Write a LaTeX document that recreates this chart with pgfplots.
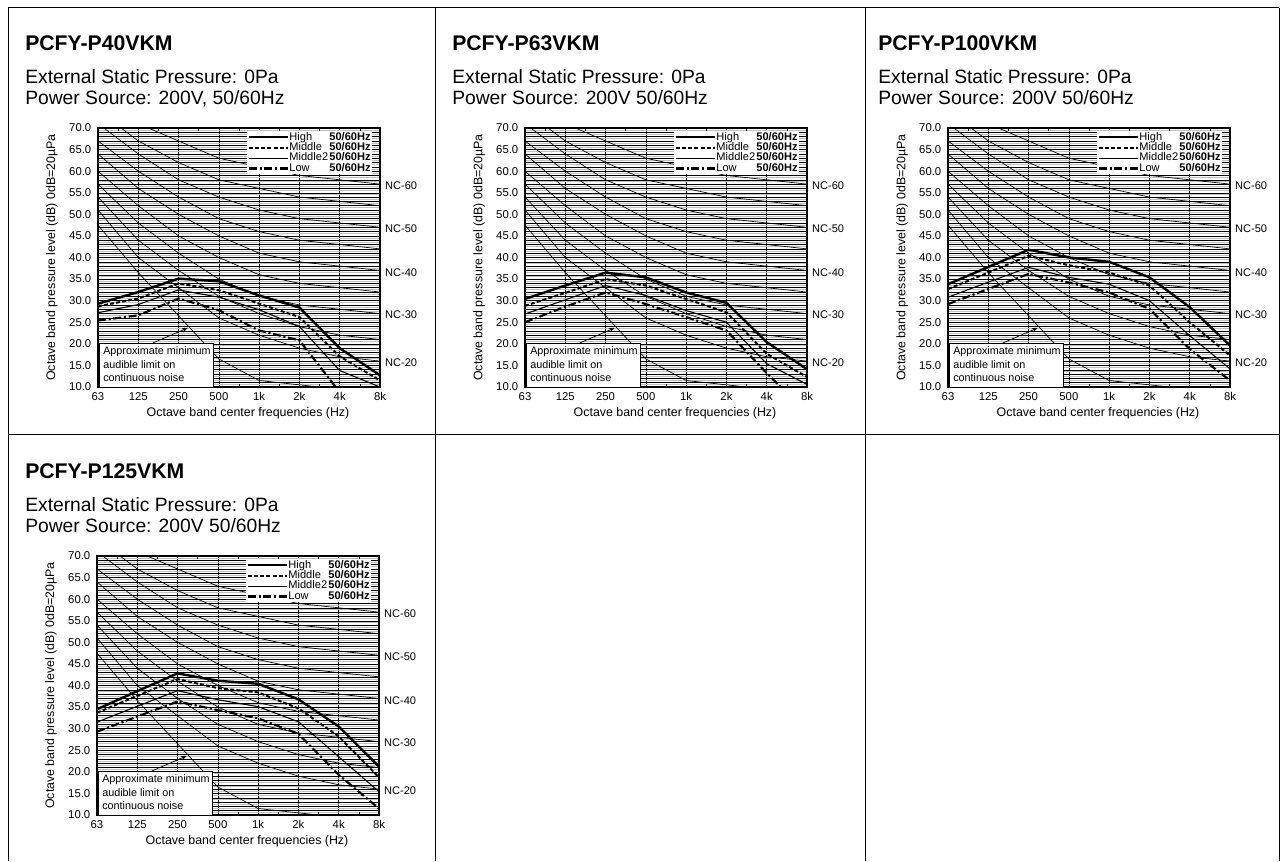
\documentclass[border=0pt]{standalone}
\usepackage{pgfplots}
\pgfplotsset{compat=1.18}
\usepackage{pgfplotstable}
\usepackage{fontspec}
\setmainfont{Liberation Sans}
\usetikzlibrary{arrows.meta}

% NC curves + approximate audible limit, octave bands 63..8k as 0..7
\pgfplotstableread{
i nc20 nc25 nc30 nc35 nc40 nc45 nc50 nc55 nc60 aud
0 51 54 57 60 64 67 71 74 77 47.5
1 40 44 48 52 56 60 64 67 71 36.5
2 33 37 41 45 50 54 58 62 67 26.5
3 26 31 35 40 45 49 54 58 63 16.5
4 22 27 31 36 41 46 51 56 61 11.5
5 19 24 29 34 39 44 49 54 59 10.5
6 17 22 28 33 38 43 48 53 58 9.5
7 16 21 27 32 37 42 47 52 57 8.5
}\nc

\pgfplotstableread{
i high mid mid2 low
0 29.3 28.7 27.2 25.4
1 32.0 30.5 29.1 26.6
2 35.1 34.0 32.5 30.5
3 34.5 32.4 30.8 27.8
4 31.2 29.3 27.9 23.1
5 28.4 26.2 24.0 20.8
6 19.0 17.1 13.8 8.8
7 12.7 11.5 10.0 4.0
}\pforty

\pgfplotstableread{
i high mid mid2 low
0 30.4 28.8 26.9 25.0
1 33.5 31.8 30.2 28.6
2 36.5 35.0 33.5 31.9
3 35.4 33.5 31.2 29.2
4 31.9 30.4 27.7 26.2
5 29.5 27.3 25.0 23.1
6 20.4 17.7 15.4 13.2
7 14.1 12.3 10.6 4.0
}\psixty

\pgfplotstableread{
i high mid mid2 low
0 33.8 32.7 30.8 29.2
1 37.8 36.5 34.3 32.7
2 41.8 40.4 37.7 36.2
3 40.0 38.2 35.4 34.2
4 39.0 36.5 33.8 31.9
5 35.4 33.5 30.0 28.1
6 28.5 25.0 21.9 18.8
7 19.6 17.3 14.2 11.5
}\phundred

\pgfplotstableread{
i high mid mid2 low
0 34.5 33.7 31.5 29.3
1 38.7 37.6 35.2 32.8
2 42.8 41.5 38.8 36.3
3 41.1 39.4 36.7 34.3
4 40.4 38.4 35.1 32.4
5 36.8 34.7 31.6 28.8
6 30.5 28.2 23.5 19.3
7 21.2 18.7 15.4 11.5
}\ptwentyfive

\newcommand{\fs}[1]{\fontsize{#1}{#1}\selectfont}

\pgfplotsset{
  ncax/.style={
    scale only axis, width=211.5pt, height=194.25pt, anchor=south west,
    xmin=0, xmax=7, ymin=10, ymax=70,
    xtick={0,...,7}, xticklabels={63,125,250,500,1k,2k,4k,8k},
    ytick={10,15,...,70},
    yticklabels={10.0,15.0,20.0,25.0,30.0,35.0,40.0,45.0,50.0,55.0,60.0,65.0,70.0},
    minor xtick={0.5,1.5,...,6.5},
    minor ytick={10.5,11.5,...,69.5},
    extra y ticks={11,12,13,14,16,17,18,19,21,22,23,24,26,27,28,29,31,32,33,34,36,37,38,39,41,42,43,44,46,47,48,49,51,52,53,54,56,57,58,59,61,62,63,64,66,67,68,69},
    extra y tick labels={},
    extra y tick style={grid=major, major tick length=0pt},
    xmajorgrids, ymajorgrids, yminorgrids,
    major grid style={black, line width=0.35pt},
    minor grid style={gray!50, line width=0.75pt},
    major tick length=0pt, minor tick length=2.5pt,
    minor x tick style={black, line width=0.4pt},
    minor y tick style={draw=none},
    axis line style={line width=1.1pt},
    tick label style={font=\fs{8.5}},
    yticklabel style={xshift=-1.5pt},
    xticklabel style={yshift=-0.5pt},
    xlabel={Octave band center frequencies (Hz)},
    ylabel={Octave band pressure level (dB) 0dB=20µPa},
    xlabel style={font=\fs{9.3}, at={(axis description cs:0.532,0)}, anchor=base, yshift=-21.75pt},
    ylabel style={font=\fs{9.3}, at={(axis description cs:-0.163,0.5)}, anchor=center},
    clip mode=individual,
    legend style={at={(0.972,0.988)}, anchor=north east, draw=none, fill=white,
      font=\fs{8.3}, inner sep=0.5pt, row sep=0pt,
      nodes={inner sep=0.4pt, text height=5.6pt, text depth=1.4pt}},
    legend cell align=left,
    legend image code/.code={\draw[##1] (0pt,0pt) -- (29pt,0pt);},
  },
  ncline/.style={black, line width=0.5pt, forget plot},
  high/.style={black, line width=1.8pt},
  mid/.style={black, line width=1.5pt, dash pattern=on 3pt off 1.6pt},
  midtwo/.style={black, line width=0.8pt},
  low/.style={black, line width=1.6pt, dash pattern=on 6pt off 2pt on 1.6pt off 2pt},
}

\newcommand{\panel}[2]{%
\begin{axis}[ncax, at={(#1)}]
  \addplot[ncline] table[x=i,y=nc20]{\nc};
  \addplot[ncline] table[x=i,y=nc25]{\nc};
  \addplot[ncline] table[x=i,y=nc30]{\nc};
  \addplot[ncline] table[x=i,y=nc35]{\nc};
  \addplot[ncline] table[x=i,y=nc40]{\nc};
  \addplot[ncline] table[x=i,y=nc45]{\nc};
  \addplot[ncline] table[x=i,y=nc50]{\nc};
  \addplot[ncline] table[x=i,y=nc55]{\nc};
  \addplot[ncline] table[x=i,y=nc60]{\nc};
  \addplot[ncline] table[x=i,y=aud]{\nc};
  \draw[black, line width=0.4pt, fill=white] (axis cs:0.02,10) rectangle (axis cs:2.85,20.2);
  \node[anchor=base west, font=\fs{8.1}, inner sep=0pt] at (axis cs:0.124,17.64) {Approximate minimum};
  \node[anchor=base west, font=\fs{8.1}, inner sep=0pt] at (axis cs:0.124,14.4) {audible limit on};
  \node[anchor=base west, font=\fs{8.1}, inner sep=0pt] at (axis cs:0.124,11.23) {continuous noise};
  \draw[-{Stealth[length=4.5pt,width=3.5pt]}, line width=0.55pt] (axis cs:1.36,20.2) -- (axis cs:2.23,23.7);
  \node[anchor=west, font=\fs{8.3}, inner sep=0pt] at (axis cs:7.12,56.6) {NC-60};
  \node[anchor=west, font=\fs{8.3}, inner sep=0pt] at (axis cs:7.12,46.6) {NC-50};
  \node[anchor=west, font=\fs{8.3}, inner sep=0pt] at (axis cs:7.12,36.4) {NC-40};
  \node[anchor=west, font=\fs{8.3}, inner sep=0pt] at (axis cs:7.12,26.7) {NC-30};
  \node[anchor=west, font=\fs{8.3}, inner sep=0pt] at (axis cs:7.12,15.6) {NC-20};
  \addplot[high] table[x=i,y=high]{#2};
  \addlegendentry{\makebox[30pt][l]{High}\textbf{50/60Hz}}
  \addplot[mid] table[x=i,y=mid]{#2};
  \addlegendentry{\makebox[30pt][l]{Middle}\textbf{50/60Hz}}
  \addplot[midtwo] table[x=i,y=mid2]{#2};
  \addlegendentry{\makebox[30pt][l]{Middle2}\textbf{50/60Hz}}
  \addplot[low] table[x=i,y=low]{#2};
  \addlegendentry{\makebox[30pt][l]{Low}\textbf{50/60Hz}}
\end{axis}}

\newcommand{\heads}[4]{%
  \node[anchor=base west, inner sep=0pt, font=\bfseries\fs{15.9}] at (#1,#2) {#3};
  \node[anchor=base west, inner sep=0pt, font=\fs{14.45}] at (#1,#2-33) {External Static Pressure: 0Pa};
  \node[anchor=base west, inner sep=0pt, font=\fs{14.45}] at (#1,#2-54) {#4};
}

\begin{document}
\begin{tikzpicture}[x=0.75pt, y=0.75pt]
  \useasboundingbox (0,0) rectangle (1280,861);
  \draw[black, line width=0.75pt] (8,853) -- (1279,853);
  \draw[black, line width=0.75pt] (8,426) -- (1279,426);
  \draw[black, line width=0.75pt] (8,853) -- (8,0);
  \draw[black, line width=0.75pt] (435,853) -- (435,0);
  \draw[black, line width=0.75pt] (865,853) -- (865,0);
  \draw[black, line width=0.75pt] (1279,853) -- (1279,0);

  \heads{25}{810.5}{PCFY-P40VKM}{Power Source: 200V, 50/60Hz}
  \heads{452}{810.5}{PCFY-P63VKM}{Power Source: 200V 50/60Hz}
  \heads{878}{810.5}{PCFY-P100VKM}{Power Source: 200V 50/60Hz}
  \heads{25}{382.5}{PCFY-P125VKM}{Power Source: 200V 50/60Hz}

  \panel{73.5pt,355.5pt}{\pforty}
  \panel{393.75pt,355.5pt}{\psixty}
  \panel{711pt,355.5pt}{\phundred}
  \panel{72.75pt,34.5pt}{\ptwentyfive}
\end{tikzpicture}
\end{document}
